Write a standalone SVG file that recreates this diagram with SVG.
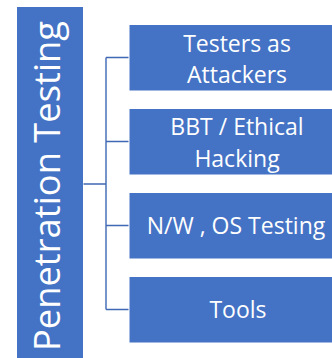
<svg xmlns="http://www.w3.org/2000/svg" width="332" height="358" viewBox="0 0 332 358">
<style>
.box{fill:#4472C4;stroke:#FFFFFF;stroke-width:1}
.lbl{font-family:"Open Sans","Liberation Sans",sans-serif;font-size:23px;fill:#FFFFFF;text-anchor:middle}
.conn{stroke:#3F68B5;stroke-width:1.4;fill:none}
</style>
<rect width="332" height="358" fill="#FFFFFF"/>
<g id="root">
<rect class="box" x="16.5" y="6.5" width="67" height="360"/>
<text class="lbl" style="font-size:36px" transform="translate(60,186) rotate(-90)" textLength="330" lengthAdjust="spacingAndGlyphs">Penetration Testing</text>
</g>
<g id="connectors">
<path class="conn" d="M83.5,184 H106 M106,57.5 V309.5 M106,57.5 H129 M106,141.5 H129 M106,225.5 H129 M106,309.5 H129"/>
</g>
<g id="n1">
<rect class="box" x="129" y="24.5" width="216" height="66.5"/>
<text class="lbl" x="237" y="51.5">Testers as</text>
<text class="lbl" x="237" y="83">Attackers</text>
</g>
<g id="n2">
<rect class="box" x="129" y="108.5" width="216" height="66.5"/>
<text class="lbl" x="237" y="135">BBT / Ethical</text>
<text class="lbl" x="237" y="167">Hacking</text>
</g>
<g id="n3">
<rect class="box" x="129" y="192.5" width="216" height="66.5"/>
<text class="lbl" x="236" y="234">N/W , OS Testing</text>
</g>
<g id="n4">
<rect class="box" x="129" y="276.5" width="216" height="66.5"/>
<text class="lbl" x="238" y="317.5">Tools</text>
</g>
</svg>
